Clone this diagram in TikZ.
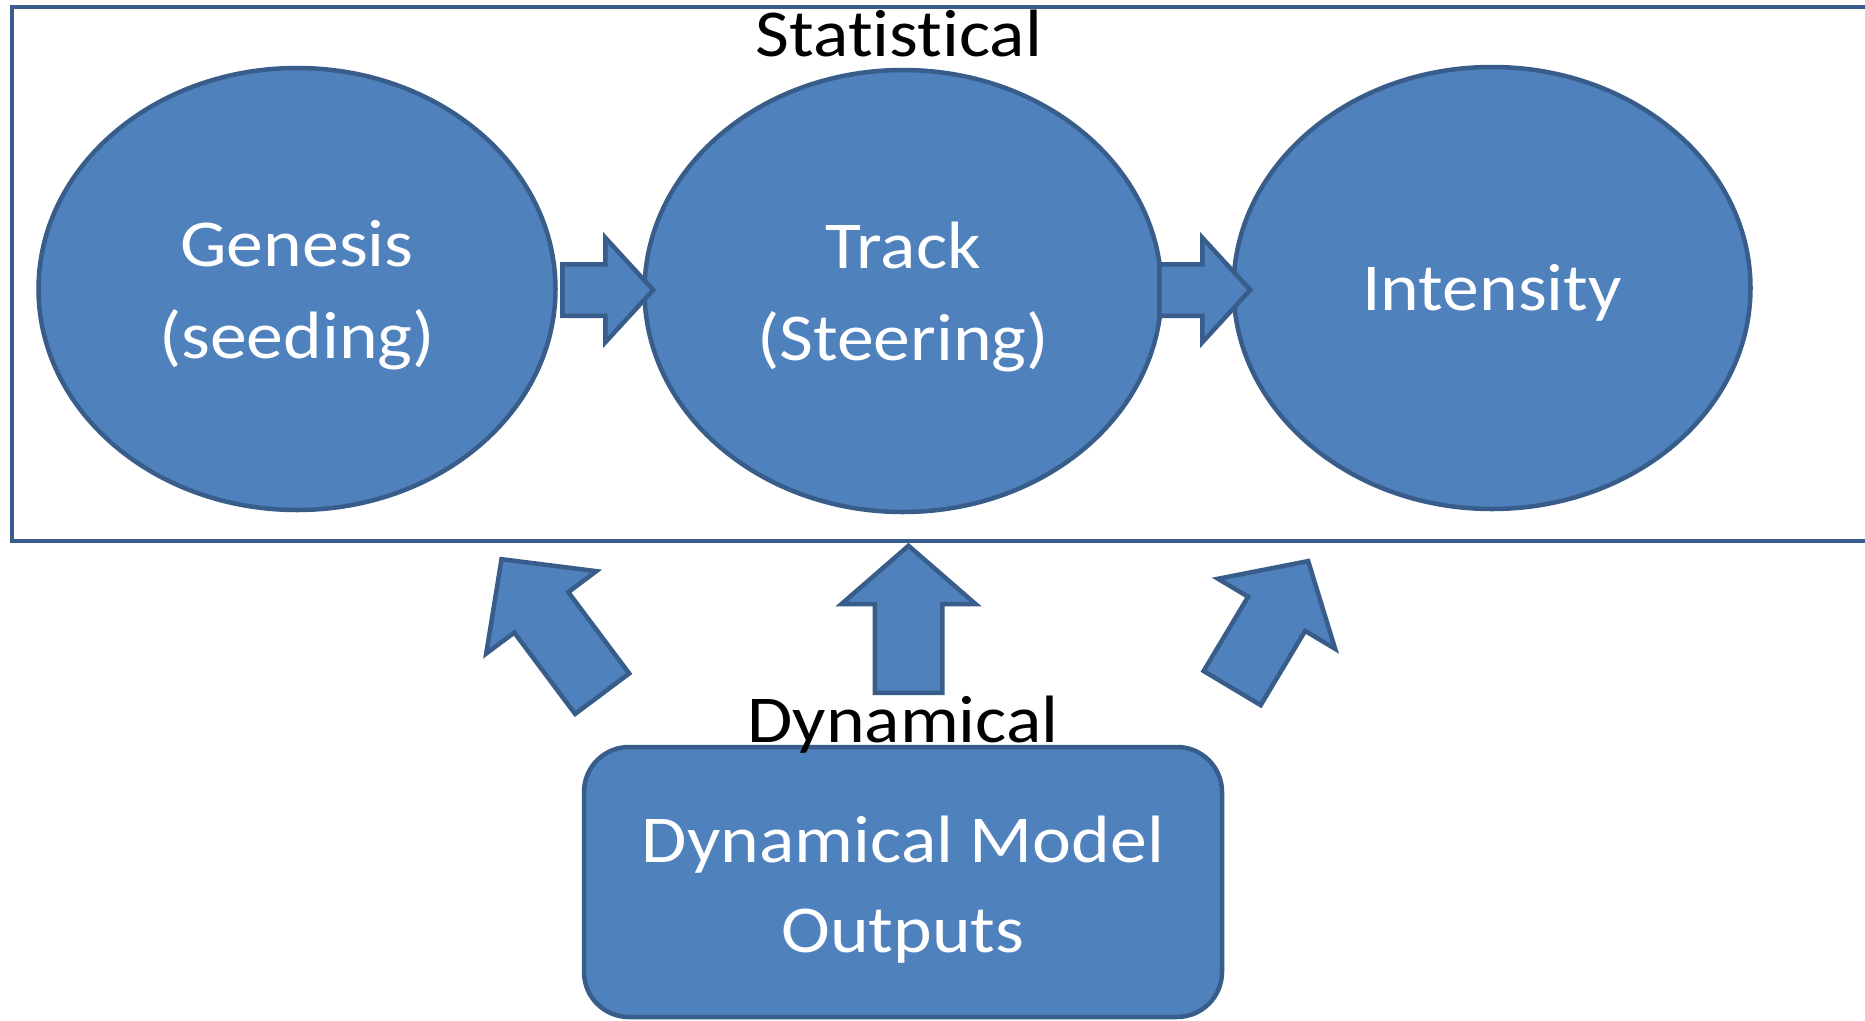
\documentclass[tikz,border=0pt]{standalone}
\usepackage{fontspec}
\setmainfont{Carlito}[FakeStretch=1.1, Ligatures=NoCommon]
\usetikzlibrary{shapes.geometric}
\usetikzlibrary{shapes.arrows}
\usetikzlibrary{positioning}
\definecolor{offblue}{HTML}{4F81BD}
\definecolor{offedge}{HTML}{385D8A}
\newcommand{\padtop}[1]{\rule{0pt}{#1}}
\newcommand{\padbot}[1]{\rule[-#1]{0pt}{#1}}
\tikzstyle{stage} = [ellipse, draw=offedge, fill=offblue, line width=4.5pt, minimum width=517pt, minimum height=442pt, text=white, align=center, font=\fontsize{67}{92}\selectfont]
\tikzstyle{fat} = [single arrow, draw=offedge, fill=offblue, line width=4.5pt, inner xsep=0pt, anchor=tail]

\begin{document}
\begin{tikzpicture}[x=1pt, y=-1pt, font=\fontsize{67}{89}\selectfont]
	\useasboundingbox (0,0) rectangle (1865,1020);

	% statistical part
	\draw[offedge, line width=4.5pt] (1875,7) -- (12,7) -- (12,541) -- (1875,541);
	\node (gen) at (297,289) [stage] {\padtop{61pt}Genesis\\(seeding)\padbot{15pt}};
	\node (trk) at (903,291) [stage] {\padtop{61pt}Track\\(Steering)\padbot{15pt}};
	\node (ints) at (1492,288) [stage] {\padtop{60pt}Intensity\padbot{15pt}};
	\node (gt) at (560,290) [fat, minimum height=91pt, inner ysep=23.5pt, single arrow head extend=26.5pt, single arrow tip angle=95] {};
	\node (ti) at (1157,290) [fat, minimum height=91pt, inner ysep=23.5pt, single arrow head extend=26.5pt, single arrow tip angle=95] {};
	\node[anchor=base] (stat) at (899,56) {Statistical};

	% dynamical part
	\node (dmo) at (903,882) [draw=offedge, fill=offblue, line width=4.5pt, rounded corners=45pt, minimum width=638pt, minimum height=270pt, text=white, align=center, font=\fontsize{67}{90}\selectfont] {\padtop{66pt}Dynamical Model\\Outputs\padbot{15pt}};
	\node[above=-12pt of dmo.north] (dyn) {Dynamical};
	\node (upl) at (603.5,695.5) [fat, rotate=126.8, minimum height=168pt, inner ysep=31.5pt, single arrow head extend=35pt, single arrow tip angle=92] {};
	\node (upc) at (908.5,695) [fat, rotate=90, minimum height=147pt, inner ysep=31.5pt, single arrow head extend=33.5pt, single arrow tip angle=98] {};
	\node (upr) at (1231,690) [fat, rotate=59.1, minimum height=148pt, inner ysep=31pt, single arrow head extend=35pt, single arrow tip angle=96] {};
\end{tikzpicture}
\end{document}
